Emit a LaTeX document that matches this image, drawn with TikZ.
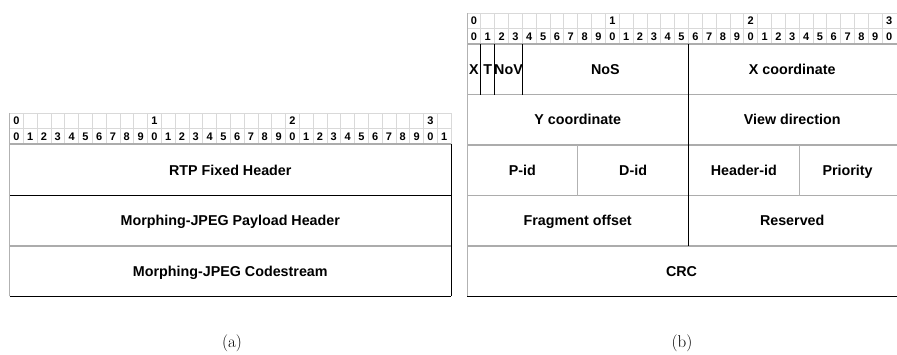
\documentclass[tikz,border=0pt]{standalone}
\usepackage{fontspec}
\newfontfamily\tablefont{Liberation Sans}
\usetikzlibrary{positioning}
\begin{document}
\begin{tikzpicture}[x=1pt,y=-1pt,
  bit/.style   = {font=\tablefont\bfseries\fontsize{11}{12}\selectfont, inner sep=0pt, text height=8pt, text depth=0pt},
  field/.style = {font=\tablefont\bfseries\fontsize{14.3}{16}\selectfont, inner sep=0pt, text height=10.3pt, text depth=0pt},
  caption/.style = {font=\fontsize{17}{20}\selectfont, inner sep=0pt},
  grid line/.style  = {gray!30, line width=0.8pt},
  row line/.style   = {gray!65, line width=1.6pt},
  black line/.style = {black, line width=1pt},
  side line/.style  = {gray!60, line width=1pt}]
\useasboundingbox (0,0) rectangle (897,354);

% (a) bit ruler
\foreach \i in {0,...,31}
  { \pgfmathtruncatemacro{\d}{mod(\i,10)}
    \node[bit] (a;\i) at ({9.5+13.8*(\i+0.5)},136.3) {\d};
    \draw[grid line] ({9.5+13.8*\i},113) -- ({9.5+13.8*\i},144); }
\foreach \i/\d in {0/0,10/1,20/2,30/3}
  { \node[bit] (at;\i) at ({9.5+13.8*(\i+0.5)},120.8) {\d}; }
\draw[grid line] (9.5,113) -- (451.1,113);
\draw[grid line] (9.5,128.5) -- (451.1,128.5);
\draw[grid line] (451.1,113) -- (451.1,144);

% (a) rows
\draw[row line]   (9.5,144) -- (451.1,144);
\draw[black line] (9.5,195) -- (451.1,195);
\draw[row line]   (9.5,246) -- (451.1,246);
\draw[black line] (9.5,296) -- (451.1,296);
\draw[side line]  (9.5,113) -- (9.5,296);
\draw[black line] (451.1,144) -- (451.1,296);

\node[field] (rtp)     at (230.3,170)   {RTP Fixed Header};
\node[field] (payload) at (230.3,220.5) {Morphing-JPEG Payload Header};
\node[field] (code)    at (230.3,271)   {Morphing-JPEG Codestream};

% (b) bit ruler
\foreach \i in {0,...,30}
  { \pgfmathtruncatemacro{\d}{mod(\i,10)}
    \node[bit] (b;\i) at ({467+13.84*(\i+0.5)},36.3) {\d};
    \draw[grid line] ({467+13.84*\i},13) -- ({467+13.84*\i},44); }
\foreach \i/\d in {0/0,10/1,20/2,30/3}
  { \node[bit] (bt;\i) at ({467+13.84*(\i+0.5)},20.8) {\d}; }
\draw[grid line] (467,13) -- (897,13);
\draw[grid line] (467,28.5) -- (897,28.5);

% (b) rows
\foreach \y in {44,94.5,145,195.5,246}
  { \draw[row line] (467,\y) -- (897,\y); }
\draw[black line] (467,296) -- (897,296);
\draw[side line]  (467,13) -- (467,296);
\draw[black line] (480.84,44) -- (480.84,94.5);
\draw[black line] (494.68,44) -- (494.68,94.5);
\draw[black line] (522.36,44) -- (522.36,94.5);
\draw[black line] (688.44,44) -- (688.44,246);
\draw[side line]  (577.72,145) -- (577.72,195.5);
\draw[side line]  (799.16,145) -- (799.16,195.5);

\node[field] (x)      at (473.9,69)    {X};
\node[field] (t)      at (487.8,69)    {T};
\node[field] (nov)    at (508.5,69)    {NoV};
\node[field] (nos)    at (605.4,69)    {NoS};
\node[field] (xcoord) at (792.2,69)    {X coordinate};
\node[field] (ycoord) at (577.7,119.5) {Y coordinate};
\node[field] (view)   at (792.2,119.5) {View direction};
\node[field] (pid)    at (522.4,170)   {P-id};
\node[field] (did)    at (633.1,170)   {D-id};
\node[field] (hid)    at (743.8,170)   {Header-id};
\node[field] (prio)   at (847.6,170)   {Priority};
\node[field] (frag)   at (577.7,220.5) {Fragment offset};
\node[field] (res)    at (792.2,220.5) {Reserved};
\node[field] (crc)    at (681.5,271)   {CRC};

% captions
\node[caption] (capa) at (232,343) {(a)};
\node[caption] (capb) at (682,343) {(b)};
\end{tikzpicture}
\end{document}
